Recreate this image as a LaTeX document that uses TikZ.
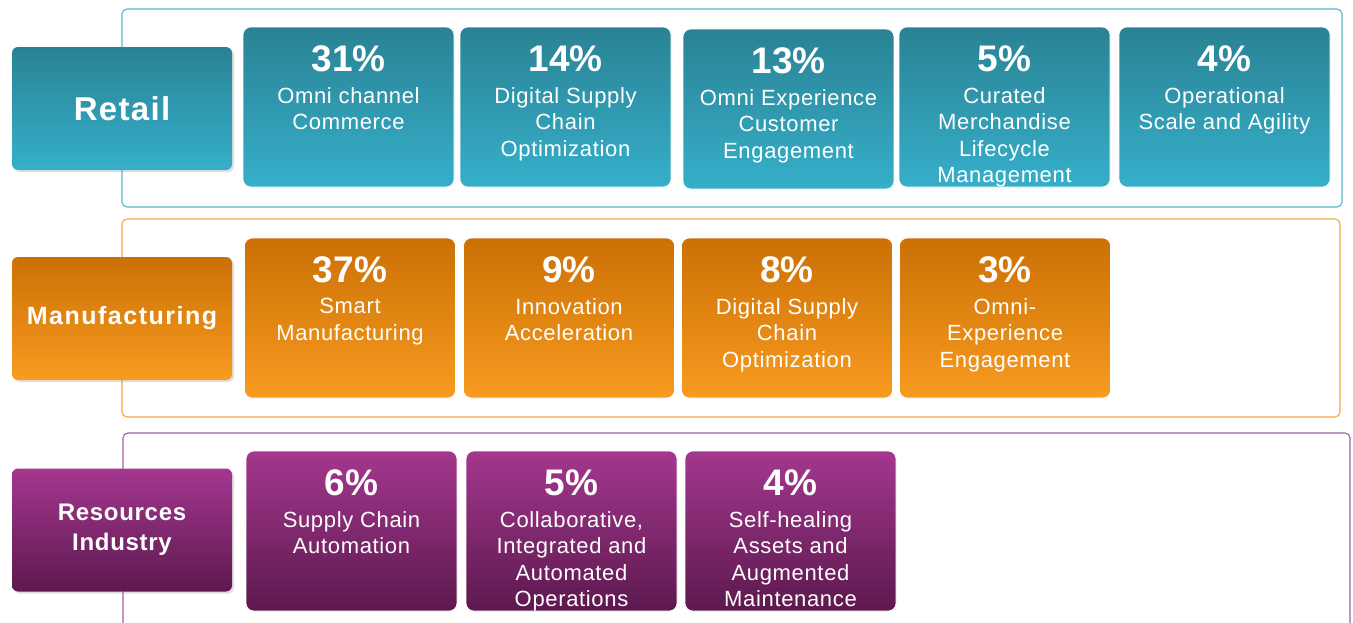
\documentclass[tikz,border=0pt]{standalone}
\usepackage{fontspec}
\setmainfont{Liberation Sans}
\newfontfamily\tilefont[LetterSpace=3]{Liberation Sans}
\newfontfamily\sectorfont[LetterSpace=6]{Liberation Sans}
\newfontfamily\sectorfontb[LetterSpace=4]{Liberation Sans}
\newfontfamily\sectorfontc[LetterSpace=3]{Liberation Sans}
\usetikzlibrary{positioning,shadows}

\definecolor{retailtop}{HTML}{2A8294}
\definecolor{retailbot}{HTML}{36AFCA}
\definecolor{retailline}{HTML}{55B8CC}
\definecolor{manutop}{HTML}{CB7005}
\definecolor{manubot}{HTML}{F89B20}
\definecolor{manuline}{HTML}{F6A640}
\definecolor{restop}{HTML}{A4378F}
\definecolor{resbot}{HTML}{5C194E}
\definecolor{resline}{HTML}{A35C9C}

\begin{document}
\begin{tikzpicture}[
                x=1pt, y=-1pt, % pixel grid, y goes down
                frame/.style={draw, line width=1.1pt, rounded corners=5pt},
                sectorbox/.style={
                    rounded corners=6pt, % rounded box
                    minimum width=220pt, minimum height=123pt,
                    inner sep=0, text=white, align=center,
                    drop shadow={opacity=0.25, shadow xshift=2pt, shadow yshift=-2pt}
                },
                tile/.style={
                    rounded corners=8pt,
                    minimum width=211pt, minimum height=160pt,
                    inner sep=0, outer sep=0, draw=white, line width=0.6pt
                },
                retail/.style={top color=retailtop, bottom color=retailbot},
                manu/.style={top color=manutop, bottom color=manubot},
                res/.style={top color=restop, bottom color=resbot},
                pct/.style={anchor=base, text=white, inner sep=0,
                    font=\bfseries\fontsize{37}{40}\selectfont},
                desc/.style={anchor=north, align=center, text=white, inner sep=0,
                    font=\tilefont\fontsize{22}{26.5}\selectfont}
            ]
            \useasboundingbox (0,0) rectangle (1353,622);

            % frames of the three sectors
            \draw[frame, retailline] (122,9) rectangle (1342,207);
            \draw[frame, manuline] (122,219) rectangle (1340,417);
            \draw[frame, resline] (123,433) rectangle (1350,650);

            % sector boxes
            \node[sectorbox, retail, font=\sectorfontb\bfseries\fontsize{33}{36}\selectfont] (retail) at (122,108.5) {Retail};
            \node[sectorbox, manu, font=\sectorfont\bfseries\fontsize{25}{30}\selectfont] (manu) at (122,318.5) {Manufacturing};
            \node[sectorbox, res, font=\sectorfontc\bfseries\fontsize{24}{30}\selectfont] (res) at (122,530) {Resources\\Industry};

            % retail tiles
            \node[tile, retail] (r1) at (348.5,107) {};
            \node[tile, retail, right=6pt of r1] (r2) {};
            \node[tile, retail, right=12pt of r2, yshift=-2pt] (r3) {};
            \node[tile, retail, right=5pt of r3, yshift=2pt] (r4) {};
            \node[tile, retail, right=9pt of r4] (r5) {};

            % manufacturing tiles
            \node[tile, manu] (m1) at (350,318) {};
            \node[tile, manu, right=8pt of m1] (m2) {};
            \node[tile, manu, right=7pt of m2] (m3) {};
            \node[tile, manu, right=7pt of m3] (m4) {};

            % resources tiles
            \node[tile, res] (s1) at (351.5,531) {};
            \node[tile, res, right=9pt of s1] (s2) {};
            \node[tile, res, right=8pt of s2] (s3) {};

            % texts of the tiles
            \foreach \n/\p/\t in {
                    r1/31\%/{Omni channel\\Commerce},
                    r2/14\%/{Digital Supply\\Chain\\Optimization},
                    r3/13\%/{Omni Experience\\Customer\\Engagement},
                    r4/5\%/{Curated\\Merchandise\\Lifecycle\\Management},
                    r5/4\%/{Operational\\Scale and Agility},
                    m1/37\%/{Smart\\Manufacturing},
                    m2/9\%/{Innovation\\Acceleration},
                    m3/8\%/{Digital Supply\\Chain\\Optimization},
                    m4/3\%/{Omni-\\Experience\\Engagement},
                    s1/6\%/{Supply Chain\\Automation},
                    s2/5\%/{Collaborative,\\Integrated and\\Automated\\Operations},
                    s3/4\%/{Self-healing\\Assets and\\Augmented\\Maintenance}} {
                \node[pct] (\n p) at ([yshift=-44pt]\n.north) {\p};
                \node[desc] (\n t) at ([yshift=-60pt]\n.north) {\t};
            }
\end{tikzpicture}
\end{document}
